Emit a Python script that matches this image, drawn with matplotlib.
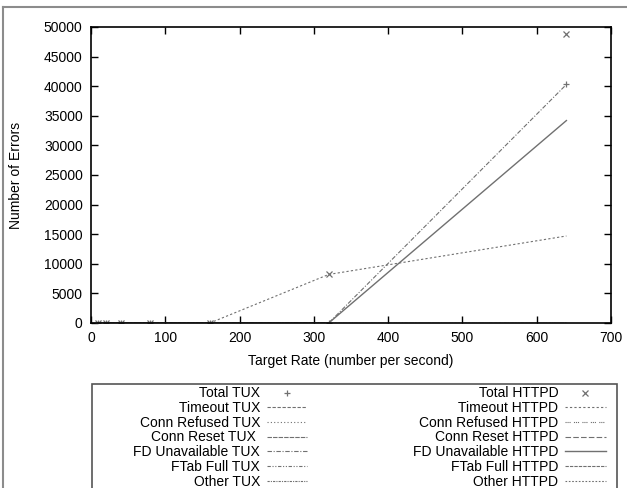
import matplotlib
matplotlib.use("Agg")
import matplotlib.pyplot as plt
from matplotlib.lines import Line2D
from matplotlib.patches import Rectangle

plt.rcParams['font.family'] = ['Liberation Sans', 'DejaVu Sans']
plt.rcParams['font.size'] = 10

# -----------------------------
# DATA
# -----------------------------
rate = [10, 20, 40, 80, 160, 320, 640]

total_tux = [0, 0, 0, 0, 0, 0, 40300]
timeout_tux = [0, 0, 0, 0, 0, 0, 0]
refused_tux = [0, 0, 0, 0, 0, 0, 0]
reset_tux = [0, 0, 0, 0, 0, 0, 0]
fd_tux = [0, 0, 0, 0, 0, 0, 40300]
ftab_tux = [0, 0, 0, 0, 0, 0, 0]
other_tux = [0, 0, 0, 0, 0, 0, 0]

total_httpd = [0, 0, 0, 0, 0, 8200, 48900]
timeout_httpd = [0, 0, 0, 0, 0, 8200, 14700]
refused_httpd = [0, 0, 0, 0, 0, 0, 0]
reset_httpd = [0, 0, 0, 0, 0, 0, 0]
fd_httpd = [0, 0, 0, 0, 0, 0, 34200]
ftab_httpd = [0, 0, 0, 0, 0, 0, 0]
other_httpd = [0, 0, 0, 0, 0, 0, 0]

gray = "#707070"

fig = plt.figure(figsize=(6.27, 4.88), dpi=100)
ax = fig.add_axes([91 / 627, 1 - 323 / 488, 520 / 627, 296 / 488])

# TUX series
ax.plot(rate, total_tux, ls="none", marker="+", ms=5, mew=0.9, color=gray, label="Total TUX")
ax.plot(rate, timeout_tux, ls=(0, (3, 1.5)), lw=0.8, color=gray, label="Timeout TUX")
ax.plot(rate, refused_tux, ls=(0, (1, 2)), lw=0.8, color=gray, label="Conn Refused TUX")
ax.plot(rate, reset_tux, ls=(0, (4, 1)), lw=0.8, color=gray, label="Conn Reset TUX ")
ax.plot(rate, fd_tux, ls=(0, (4, 1.5, 1, 1.5)), lw=0.8, color=gray, label="FD Unavailable TUX")
ax.plot(rate, ftab_tux, ls=(0, (3, 1.5, 1, 1.5, 1, 1.5)), lw=0.8, color=gray, label="FTab Full TUX")
ax.plot(rate, other_tux, ls=(0, (2, 1, 1, 1)), lw=0.8, color=gray, label="Other TUX")

# HTTPD series
ax.plot(rate, total_httpd, ls="none", marker="x", ms=4, mew=0.9, color=gray, label="Total HTTPD")
ax.plot(rate, timeout_httpd, ls=(0, (2, 2)), lw=0.8, color=gray, label="Timeout HTTPD")
ax.plot(rate, refused_httpd, ls=(0, (1, 0.8, 1, 0.8, 1, 3)), lw=0.8, color=gray, label="Conn Refused HTTPD")
ax.plot(rate, reset_httpd, ls=(0, (5, 2)), lw=0.8, color=gray, label="Conn Reset HTTPD")
ax.plot(rate, fd_httpd, ls="-", lw=1.0, color=gray, label="FD Unavailable HTTPD")
ax.plot(rate, ftab_httpd, ls=(0, (3, 1)), lw=0.8, color=gray, label="FTab Full HTTPD")
ax.plot(rate, other_httpd, ls=(0, (1.5, 1.5)), lw=0.8, color=gray, label="Other HTTPD")

ax.set_xlim(0, 700)
ax.set_ylim(0, 50000)
ax.set_xticks(range(0, 701, 100))
ax.set_yticks(range(0, 50001, 5000))
ax.tick_params(direction="in", top=True, right=True, length=5, width=1, pad=6)
for s in ax.spines.values():
    s.set_linewidth(1.2)
ax.set_xlabel("Target Rate (number per second)", labelpad=6)
ax.set_ylabel("Number of Errors", labelpad=15)

# legend: gnuplot style, text on the left, sample on the right
leg = fig.legend(*ax.get_legend_handles_labels(), ncol=2, loc="upper left",
                 bbox_to_anchor=(132 / 627, 1 - 385 / 488), frameon=False,
                 markerfirst=False, handlelength=2.9, handletextpad=0.5,
                 columnspacing=7.6, labelspacing=0.05, borderpad=0.1,
                 borderaxespad=0)
fig.add_artist(Rectangle((92 / 627, -0.2), 525 / 627, 1.2 - 384 / 488,
                         transform=fig.transFigure, fill=False, lw=1.2,
                         ec="#555555"))

# outer frame of the page
fig.add_artist(Line2D([2.5 / 627, 2.5 / 627], [0, 1 - 7 / 488], transform=fig.transFigure,
                      color="#8c8c8c", lw=1.5))
fig.add_artist(Line2D([2.5 / 627, 1], [1 - 7 / 488, 1 - 7 / 488], transform=fig.transFigure,
                      color="#8c8c8c", lw=1.5))

fig.savefig("out.png", dpi=100)
